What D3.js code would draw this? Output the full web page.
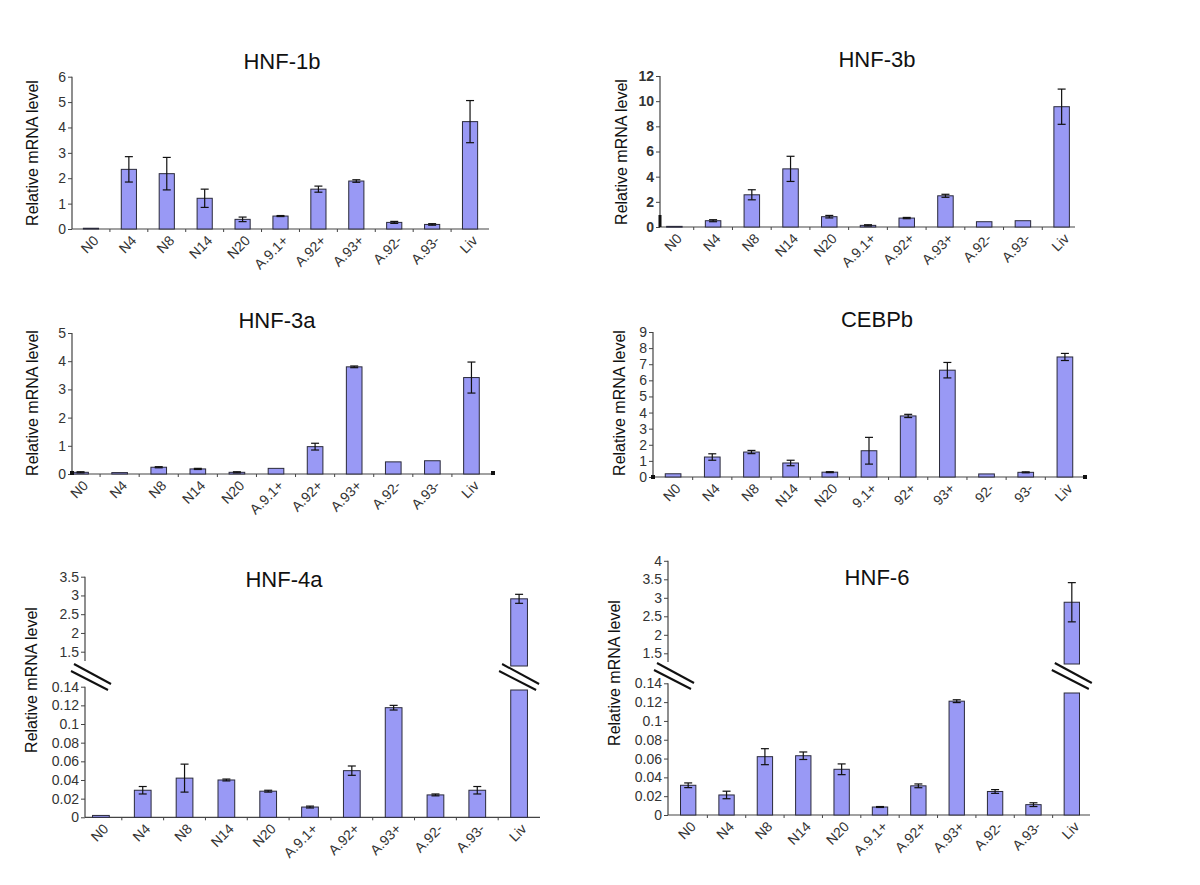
<!DOCTYPE html>
<html><head><meta charset="utf-8">
<script src="https://cdn.jsdelivr.net/npm/d3@7"></script>
<style>
body{margin:0;background:#fff}
svg{display:block}
text{font-family:"Liberation Sans",Arial,Helvetica,sans-serif}
</style>
</head><body>
<svg id="c" width="1200" height="885"></svg>
<script>
// ---------- data ----------
const categories = ["N0","N4","N8","N14","N20","A.9.1+","A.92+","A.93+","A.92-","A.93-","Liv"];
const cebpbCategories = ["N0","N4","N8","N14","N20","9.1+","92+","93+","92-","93-","Liv"];

const hnf1bValues = [0.03, 2.35, 2.18, 1.21, 0.38, 0.51, 1.57, 1.89, 0.26, 0.18, 4.23];
const hnf1bErrors = [0, 0.5, 0.64, 0.36, 0.09, 0.02, 0.12, 0.05, 0.04, 0.03, 0.83];
const hnf1bTicks = [0,1,2,3,4,5,6];

const hnf3bValues = [0.05, 0.5, 2.56, 4.62, 0.82, 0.13, 0.71, 2.48, 0.42, 0.5, 9.56];
const hnf3bErrors = [0, 0.08, 0.4, 1.0, 0.1, 0.05, 0.05, 0.12, 0, 0, 1.4];
const hnf3bTicks = [0,2,4,6,8,10,12];

const hnf3aValues = [0.06, 0.05, 0.24, 0.18, 0.06, 0.2, 0.97, 3.8, 0.43, 0.47, 3.42];
const hnf3aErrors = [0.02, 0, 0.02, 0.02, 0.02, 0, 0.12, 0.03, 0, 0, 0.55];
const hnf3aTicks = [0,1,2,3,4,5];

const cebpbValues = [0.2, 1.24, 1.55, 0.87, 0.3, 1.63, 3.79, 6.63, 0.19, 0.29, 7.45];
const cebpbErrors = [0, 0.2, 0.1, 0.17, 0.03, 0.83, 0.1, 0.48, 0, 0.03, 0.22];
const cebpbTicks = [0,1,2,3,4,5,6,7,8,9];

const hnf4aValues = [0.002, 0.029, 0.042, 0.040, 0.028, 0.011, 0.050, 0.1175, 0.024, 0.029, 2.91];
const hnf4aErrors = [0, 0.004, 0.015, 0.001, 0.001, 0.001, 0.005, 0.0025, 0.001, 0.004, 0.12];
const hnf4aUpperTicks = [1.5, 2, 2.5, 3, 3.5];

const hnf6Values = [0.0316, 0.0213, 0.062, 0.063, 0.0486, 0.0085, 0.031, 0.121, 0.025, 0.011, 2.88];
const hnf6Errors = [0.0025, 0.004, 0.0085, 0.004, 0.0057, 0.0005, 0.002, 0.0015, 0.002, 0.002, 0.53];
const hnf6UpperTicks = [1.5, 2, 2.5, 3, 3.5, 4];

const lowerTicks = [0, 0.02, 0.04, 0.06, 0.08, 0.1, 0.12, 0.14];

const yAxisTitle = "Relative mRNA level";

// ---------- style ----------
const BAR_FILL = "#9999f5";
const BAR_STROKE = "#2a2a3a";
const AXIS = "#444";
const TICK_TXT = "#333";

const svg = d3.select("#c");

function panel(cfg) {
  const g = svg.append("g");
  const L = cfg.layout;
  const xb = d3.scaleBand().domain(cfg.labels).range(L.band).paddingInner(0.6).paddingOuter(0.3);
  const bw = xb.bandwidth();
  const broken = !!cfg.upperTicks;
  const yL = d3.scaleLinear().domain([0, cfg.lowerMax]).range([L.y0, L.yTop]);
  const yU = broken ? d3.scaleLinear().domain([cfg.upperTicks[0], cfg.upperTicks[cfg.upperTicks.length-1]]).range([L.uBottom, L.uTop]) : null;

  // title
  g.append("text").attr("x", L.title[0]).attr("y", L.title[1]).attr("text-anchor","middle")
    .attr("font-size", 22).attr("fill","#111").text(cfg.title);
  // y-axis title
  g.append("text").attr("transform", `translate(${L.ytitle[0]},${L.ytitle[1]}) rotate(-90)`)
    .attr("text-anchor","middle").attr("font-size", 16).attr("fill","#111").text(yAxisTitle);

  const tickStyle = sel => sel.attr("font-size", cfg.tickSize || 14).attr("fill", TICK_TXT)
      .attr("font-family", cfg.tickFont || null).attr("font-weight", cfg.tickWeight || null).attr("x", -6);

  // lower (or only) y axis
  const axL = d3.axisLeft(yL).tickValues(cfg.lowerTicks).tickSize(4).tickSizeOuter(0).tickFormat(d => String(d));
  const gL = g.append("g").attr("transform", `translate(${L.x0},0)`).call(axL);
  gL.select(".domain").remove();
  gL.selectAll(".tick line").attr("stroke", AXIS);
  tickStyle(gL.selectAll(".tick text"));
  g.append("line").attr("x1", L.x0).attr("x2", L.x0).attr("y1", yL(cfg.lowerTicks[cfg.lowerTicks.length-1])).attr("y2", L.y0)
    .attr("stroke", AXIS).attr("stroke-width", 1.2);

  if (broken) {
    const axU = d3.axisLeft(yU).tickValues(cfg.upperTicks).tickSize(4).tickSizeOuter(0).tickFormat(d => String(d));
    const gU = g.append("g").attr("transform", `translate(${L.x0},0)`).call(axU);
    gU.select(".domain").remove();
    gU.selectAll(".tick line").attr("stroke", AXIS);
    tickStyle(gU.selectAll(".tick text"));
    g.append("line").attr("x1", L.x0).attr("x2", L.x0).attr("y1", L.uTop).attr("y2", L.uAxisEnd)
      .attr("stroke", AXIS).attr("stroke-width", 1.2);
  }

  // x axis
  g.append("line").attr("x1", L.x0).attr("x2", L.x1).attr("y1", L.y0).attr("y2", L.y0)
    .attr("stroke", AXIS).attr("stroke-width", 1.2);
  const step = xb.step();
  g.selectAll(".xt").data(cfg.labels.slice(1)).enter().append("line")
    .attr("x1", d => xb(d) - xb.paddingInner()*step/2).attr("x2", d => xb(d) - xb.paddingInner()*step/2)
    .attr("y1", L.y0).attr("y2", L.y0 + 3).attr("stroke", AXIS);

  // bars
  const data = cfg.labels.map((c,i) => ({c, v: cfg.values[i], e: cfg.errors[i]}));
  data.forEach(d => {
    const x = xb(d.c);
    if (broken && d.v > cfg.lowerMax) {
      g.append("rect").attr("x", x).attr("y", L.lowerPieceTop).attr("width", bw).attr("height", L.y0 - L.lowerPieceTop)
        .attr("fill", BAR_FILL).attr("stroke", BAR_STROKE).attr("stroke-width", 1);
      g.append("rect").attr("x", x).attr("y", yU(d.v)).attr("width", bw).attr("height", L.upperPieceBottom - yU(d.v))
        .attr("fill", BAR_FILL).attr("stroke", BAR_STROKE).attr("stroke-width", 1);
      errBar(g, x + bw/2, yU(d.v + d.e), yU(d.v - d.e));
      breakMark(g, x + bw/2, L.breakY);
    } else {
      const yv = yL(d.v);
      g.append("rect").attr("x", x).attr("y", yv).attr("width", bw).attr("height", Math.max(0.8, L.y0 - yv))
        .attr("fill", BAR_FILL).attr("stroke", BAR_STROKE).attr("stroke-width", 1);
      if (d.e > 0) errBar(g, x + bw/2, yL(d.v + d.e), yL(Math.max(0, d.v - d.e)));
    }
  });
  if (broken) breakMark(g, L.x0 + 6, L.breakY);

  // x labels
  g.selectAll(".xl").data(cfg.labels).enter().append("text")
    .attr("transform", d => `translate(${xb(d) + bw/2 + 5},${L.y0 + 9}) rotate(-45)`)
    .attr("text-anchor", "end").attr("dy", "0.35em")
    .attr("font-size", 14).attr("fill", TICK_TXT).text(d => d);

  // small dark marks present in the source figure
  (L.endMarks || []).forEach(m => g.append("rect").attr("x", m[0]-2).attr("y", m[1]-2).attr("width", 4).attr("height", 4).attr("fill", "#111"));
  if (L.baseMark) g.append("rect").attr("x", L.x0 - 1.5).attr("y", L.y0 - 12).attr("width", 3).attr("height", 12).attr("fill", "#111");
}

function errBar(g, cx, yTop, yBot) {
  g.append("line").attr("x1", cx).attr("x2", cx).attr("y1", yTop).attr("y2", yBot).attr("stroke", "#111").attr("stroke-width", 1.2);
  [yTop, yBot].forEach(y => g.append("line").attr("x1", cx-4).attr("x2", cx+4).attr("y1", y).attr("y2", y).attr("stroke", "#111").attr("stroke-width", 1.2));
}

function breakMark(g, cx, cy) {
  g.append("polygon").attr("points", `${cx-22},${cy-14} ${cx+22},${cy+10} ${cx+22},${cy+18} ${cx-22},${cy-6}`).attr("fill", "#fff");
  g.append("line").attr("x1", cx-17).attr("y1", cy-13).attr("x2", cx+20).attr("y2", cy+7).attr("stroke", "#111").attr("stroke-width", 2);
  g.append("line").attr("x1", cx-20).attr("y1", cy-6).attr("x2", cx+17).attr("y2", cy+13).attr("stroke", "#111").attr("stroke-width", 2);
}

panel({title: "HNF-1b", labels: categories, values: hnf1bValues, errors: hnf1bErrors,
  lowerTicks: hnf1bTicks, lowerMax: 6,
  layout: {x0: 72, x1: 489, band: [72, 489], y0: 229, yTop: 76.7, title: [282, 69], ytitle: [38, 153]}});

panel({title: "HNF-3b", labels: categories, values: hnf3bValues, errors: hnf3bErrors,
  lowerTicks: hnf3bTicks, lowerMax: 12, tickFont: "'Liberation Sans Narrow','Arial Narrow','Liberation Sans',sans-serif", tickWeight: "bold", tickSize: 14,
  layout: {x0: 660, x1: 1075, band: [655, 1081], y0: 227, yTop: 76, title: [877, 67], ytitle: [627, 152], baseMark: true}});

panel({title: "HNF-3a", labels: categories, values: hnf3aValues, errors: hnf3aErrors,
  lowerTicks: hnf3aTicks, lowerMax: 5,
  layout: {x0: 72, x1: 493, band: [61, 491], y0: 474, yTop: 333, title: [277, 328], ytitle: [38, 403],
    endMarks: [[72, 473], [493, 473]]}});

panel({title: "CEBPb", labels: cebpbCategories, values: cebpbValues, errors: cebpbErrors,
  lowerTicks: cebpbTicks, lowerMax: 9,
  layout: {x0: 653, x1: 1085, band: [653.5, 1084.5], y0: 477, yTop: 332, title: [877, 327], ytitle: [625, 403],
    endMarks: [[653, 477], [1085, 477]]}});

panel({title: "HNF-4a", labels: categories, values: hnf4aValues, errors: hnf4aErrors,
  lowerTicks: lowerTicks, lowerMax: 0.14, upperTicks: hnf4aUpperTicks,
  layout: {x0: 85, x1: 540, band: [80, 540], y0: 817.3, yTop: 686.7, uBottom: 651.7, uTop: 576.7,
    uAxisEnd: 661, upperPieceBottom: 666, lowerPieceTop: 690, breakY: 677,
    title: [284, 587], ytitle: [37, 680]}});

panel({title: "HNF-6", labels: categories, values: hnf6Values, errors: hnf6Errors,
  lowerTicks: lowerTicks, lowerMax: 0.14, upperTicks: hnf6UpperTicks,
  layout: {x0: 668, x1: 1090, band: [669, 1091], y0: 815, yTop: 683.3, uBottom: 653.3, uTop: 560.8,
    uAxisEnd: 662, upperPieceBottom: 664, lowerPieceTop: 693, breakY: 676,
    title: [877, 585], ytitle: [620, 673]}});
</script>
</body></html>
